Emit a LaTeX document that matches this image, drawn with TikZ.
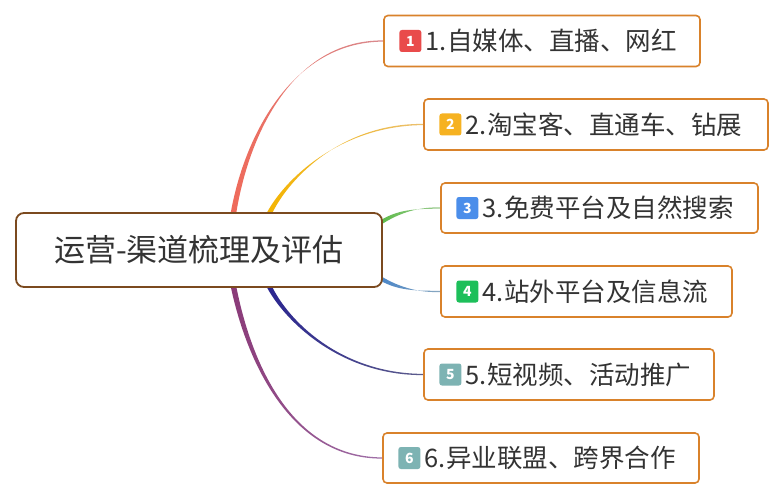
\documentclass[tikz,border=0pt]{standalone}
\usepackage{fontspec}
\setmainfont{Noto Sans CJK SC}
\usetikzlibrary{calc}
\pgfdeclarelayer{bottom}
\pgfdeclarelayer{background}
\pgfsetlayers{bottom,background,main}
\definecolor{boxborder}{HTML}{D9822B}
\definecolor{rootborder}{HTML}{7B4A1F}
\definecolor{textgray}{HTML}{333333}
\definecolor{bdgA}{HTML}{E94B4B}
\definecolor{bdgB}{HTML}{F6B221}
\definecolor{bdgC}{HTML}{4B8EEA}
\definecolor{bdgD}{HTML}{1DBF5A}
\definecolor{bdgE}{HTML}{7DB3B3}
\definecolor{redS}{HTML}{EF6A5A}
\definecolor{redE}{HTML}{D98A8E}
\definecolor{yelS}{HTML}{F4B400}
\definecolor{yelE}{HTML}{EBC070}
\definecolor{grnS}{HTML}{5DBB4A}
\definecolor{grnE}{HTML}{9CCB90}
\definecolor{bluS}{HTML}{4A86C8}
\definecolor{bluE}{HTML}{8AA8C0}
\definecolor{navS}{HTML}{2A2590}
\definecolor{navE}{HTML}{5C5C8C}
\definecolor{purS}{HTML}{8A3A78}
\definecolor{purE}{HTML}{A070A8}
% #1 start, #2 c1, #3 c2, #4 end, #5 start colour, #6 end colour, #7 start half-width vector
\newcommand\taperline[7]{%
  \shade[left color=#5, right color=#6]
    ($#1+#7$) .. controls ($#2+0.8*#7$) and ($#3+(0,-1.1)$) .. ($#4+(0,-0.6)$)
    -- ($#4+(0,0.6)$) .. controls ($#3+(0,1.1)$) and ($#2-0.8*#7$) .. ($#1-#7$) -- cycle;
}
\begin{document}
\begin{tikzpicture}[x=1pt,y=-1pt,
  branchbox/.style={draw=boxborder, line width=1.6pt, rounded corners=4pt, fill=white, minimum height=51pt, inner sep=0pt},
  badge/.style={fill=#1, rounded corners=2.5pt, minimum width=22pt, minimum height=22pt, inner sep=0pt, text=white, font=\fontsize{14}{14}\selectfont\bfseries, anchor=west},
  branchtext/.style={anchor=west, inner sep=0pt, text=textgray, font=\fontsize{25.5}{25.5}\selectfont},
  rootbox/.style={draw=rootborder, line width=1.8pt, rounded corners=8pt, fill=white, minimum width=366pt, minimum height=74pt, text=textgray, font=\fontsize{31}{31}\selectfont}]
\begin{pgfonlayer}{bottom}
\fill[white] (0,0) rectangle (784,500);
\end{pgfonlayer}
\useasboundingbox (0,0) rectangle (784,500);

\node[rootbox] (root) at (199,250) {运营-渠道梳理及评估};

\node[branchbox, minimum width=316pt] (b1) at (542,41) {};
\node[badge=bdgA] (k1) at ($(b1.west)+(16,0)$) {1};
\node[branchtext] (t1) at ($(k1.east)+(4,0)$) {1.自媒体、直播、网红};

\node[branchbox, minimum width=344pt] (b2) at (596,124.5) {};
\node[badge=bdgB] (k2) at ($(b2.west)+(16,0)$) {2};
\node[branchtext] (t2) at ($(k2.east)+(4,0)$) {2.淘宝客、直通车、钻展};

\node[branchbox, minimum width=317pt, minimum height=50pt] (b3) at (599.5,208) {};
\node[badge=bdgC] (k3) at ($(b3.west)+(16,0)$) {3};
\node[branchtext] (t3) at ($(k3.east)+(4,0)$) {3.免费平台及自然搜索};

\node[branchbox, minimum width=291pt] (b4) at (586.5,291.5) {};
\node[badge=bdgD] (k4) at ($(b4.west)+(16,0)$) {4};
\node[branchtext] (t4) at ($(k4.east)+(4,0)$) {4.站外平台及信息流};

\node[branchbox, minimum width=290pt] (b5) at (569,374.5) {};
\node[badge=bdgE] (k5) at ($(b5.west)+(16,0)$) {5};
\node[branchtext] (t5) at ($(k5.east)+(4,0)$) {5.短视频、活动推广};

\node[branchbox, minimum width=316pt, minimum height=50pt] (b6) at (541,458) {};
\node[badge=bdgE] (k6) at ($(b6.west)+(16,0)$) {6};
\node[branchtext] (t6) at ($(k6.east)+(4,0)$) {6.异业联盟、跨界合作};

\coordinate (s1) at (233,216);
\coordinate (s2) at (268,216);
\coordinate (s3) at (380,223);
\coordinate (s4) at (380,278);
\coordinate (s5) at (268,284);
\coordinate (s6) at (233,284);

\begin{pgfonlayer}{background}
\taperline{(s1)}{(245,140)}{(290,41)}{(b1.west)}{redS}{redE}{(2.8,0)}
\taperline{(s2)}{(285,180)}{(340,124.5)}{(b2.west)}{yelS}{yelE}{(2.8,0)}
\taperline{(s3)}{(400,210)}{(420,208)}{(b3.west)}{grnS}{grnE}{(0,2.4)}
\taperline{(s4)}{(400,290)}{(420,291.5)}{(b4.west)}{bluS}{bluE}{(0,2.4)}
\taperline{(s5)}{(285,320)}{(340,374.5)}{(b5.west)}{navS}{navE}{(2.8,0)}
\taperline{(s6)}{(248,360)}{(290,458)}{(b6.west)}{purS}{purE}{(2.8,0)}
\end{pgfonlayer}
\end{tikzpicture}
\end{document}
